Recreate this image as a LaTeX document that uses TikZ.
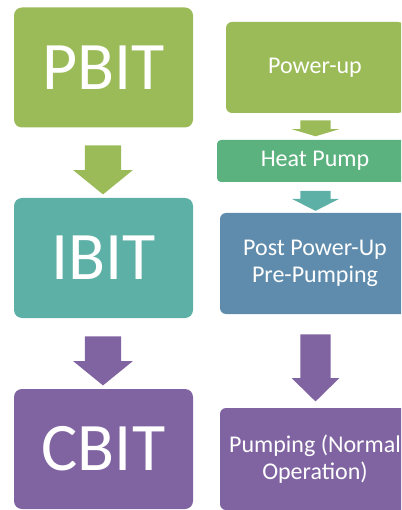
\documentclass[tikz,border=0pt]{standalone}
\usepackage{fontspec}
\setmainfont{Carlito}
\usetikzlibrary{shapes.arrows}

\definecolor{stagegreen}{HTML}{9BBB59}
\definecolor{stageteal}{HTML}{5DB0A6}
\definecolor{stagepurple}{HTML}{8064A2}
\definecolor{heatgreen}{HTML}{5BB27E}
\definecolor{postblue}{HTML}{5F8CAC}

\tikzset{
    testbox/.style={
        rectangle,
        rounded corners = 8pt,
        inner sep = 0pt,
        text = white,
        font = \fontsize{68}{72}\selectfont,
        minimum width = 179pt,
        minimum height = 120pt
    },
    phasebox/.style={
        rectangle,
        rounded corners = 6pt,
        inner sep = 0pt,
        align = center,
        text = white,
        font = \fontsize{24}{27}\selectfont
    },
    downarrow/.style={
        single arrow,
        rotate = -90,
        inner xsep = 0pt,
        outer sep = 0pt
    }
}

\begin{document}
\begin{tikzpicture}[x=1pt, y=-1pt]
            \useasboundingbox (0,0) rectangle (401,510);
            \clip (0,0) rectangle (401,510);

            % left column
            \node[testbox, fill = stagegreen] (pbit) at (103.5,67.5) {PBIT};
            \node[testbox, fill = stageteal] (ibit) at (103.5,258) {IBIT};
            \node[testbox, fill = stagepurple] (cbit) at (103.5,449) {CBIT};

            \node[
                downarrow,
                fill = stagegreen,
                inner ysep = 18pt,
                minimum height = 49pt,
                single arrow head extend = 11.5pt,
                single arrow tip angle = 101.7
            ] (pbittoibit) at (103,162.5) {};
            \node[
                downarrow,
                fill = stagepurple,
                inner ysep = 18pt,
                minimum height = 49pt,
                single arrow head extend = 11.5pt,
                single arrow tip angle = 101.7
            ] (ibittocbit) at (103,353.5) {};

            % right column
            \node[phasebox, fill = stagegreen, minimum width = 178pt, minimum height = 91pt] (powerup) at (315,67.5) {Power-up};
            \node[phasebox, fill = heatgreen, minimum width = 196pt, minimum height = 42pt, rounded corners = 4pt] (heatpump) at (315,161) {Heat Pump};
            \node[phasebox, fill = postblue, minimum width = 190pt, minimum height = 101pt] (prepump) at (315,263.5) {Post Power-Up\\Pre-Pumping};
            \node[phasebox, fill = stagepurple, minimum width = 190pt, minimum height = 102pt] (pumping) at (315,459) {Pumping (Normal\\Operation)};

            \node[
                downarrow,
                fill = stagegreen,
                inner ysep = 15pt,
                minimum height = 16pt,
                single arrow head extend = 8.5pt,
                single arrow tip angle = 146.8
            ] (powertoheat) at (315.5,126) {};
            \node[
                downarrow,
                fill = stageteal,
                inner ysep = 15pt,
                minimum height = 20pt,
                single arrow head extend = 8.5pt,
                single arrow tip angle = 126
            ] (heattopost) at (315.5,197) {};
            \node[
                downarrow,
                fill = stagepurple,
                inner ysep = 15pt,
                minimum height = 67pt,
                single arrow head extend = 8.5pt,
                single arrow tip angle = 91.2
            ] (posttopump) at (315.5,360.5) {};
        \end{tikzpicture}
\end{document}
